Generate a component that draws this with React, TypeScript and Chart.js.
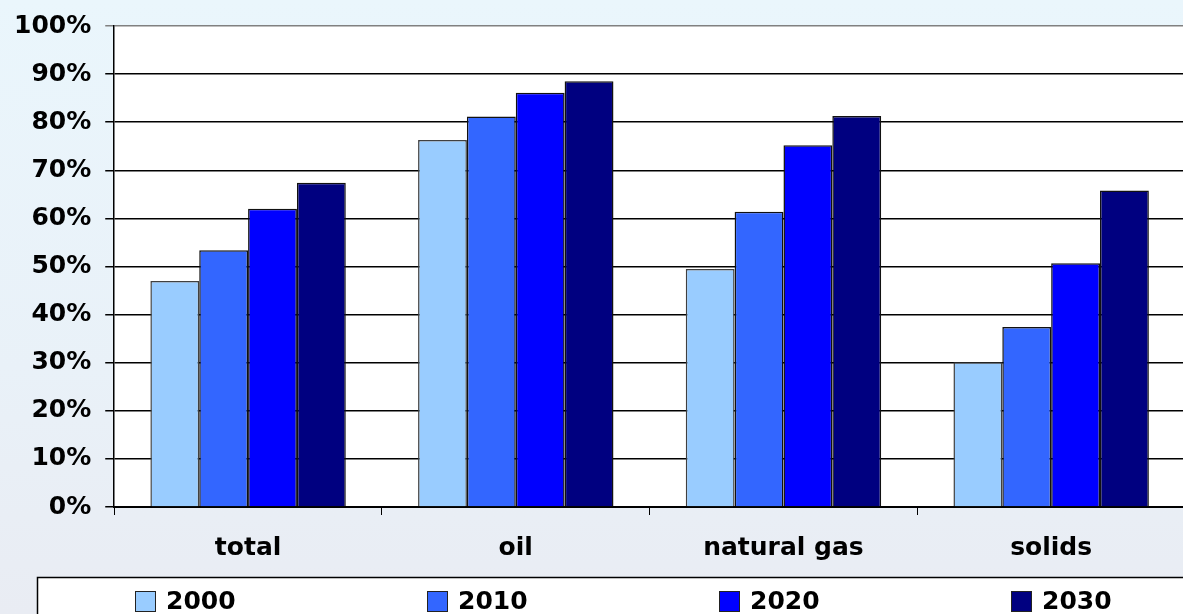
import React, { useEffect, useRef } from "react";
import { Chart, registerables } from "chart.js";

Chart.register(...registerables);

const categories = ["total", "oil", "natural gas", "solids"];
const seriesLabels = ["2000", "2010", "2020", "2030"];
const values2000 = [47.0, 76.3, 49.5, 30.1];
const values2010 = [53.4, 81.2, 61.4, 37.4];
const values2020 = [62.0, 86.1, 75.2, 50.7];
const values2030 = [67.4, 88.5, 81.3, 65.8];
const seriesColors = ["#99CCFF", "#3366FF", "#0000FF", "#000080"];
const seriesBorders = ["#404040", "#111111", "#111111", "#111111"];
const yTicks = [0, 10, 20, 30, 40, 50, 60, 70, 80, 90, 100];

const FONT = "'DejaVu Sans', 'Liberation Sans', Arial, sans-serif";

const plotBg = {
  id: "plotBg",
  beforeDraw(chart: any) {
    const { ctx, chartArea } = chart;
    ctx.save();
    ctx.fillStyle = "#ffffff";
    ctx.fillRect(chartArea.left, chartArea.top, chartArea.right - chartArea.left, chartArea.bottom - chartArea.top);
    ctx.restore();
  },
};

const boxLegend = {
  id: "boxLegend",
  afterDraw(chart: any) {
    const { ctx } = chart;
    ctx.save();
    ctx.fillStyle = "#ffffff";
    ctx.fillRect(37, 577, 1300, 100);
    ctx.strokeStyle = "#000000";
    ctx.lineWidth = 1.5;
    ctx.strokeRect(37.5, 577.5, 1300, 100);
    ctx.font = `bold 25px ${FONT}`;
    ctx.textBaseline = "alphabetic";
    ctx.textAlign = "left";
    chart.data.datasets.forEach((ds: any, i: number) => {
      const x = 135 + i * 292;
      ctx.fillStyle = ds.backgroundColor;
      ctx.fillRect(x, 591, 21, 21);
      ctx.strokeStyle = "#222222";
      ctx.lineWidth = 1;
      ctx.strokeRect(x + 0.5, 591.5, 20, 20);
      ctx.fillStyle = "#000000";
      ctx.fillText(ds.label, x + 31, 609);
    });
    ctx.restore();
  },
};

export default function App() {
  const ref = useRef<HTMLCanvasElement | null>(null);

  useEffect(() => {
    document.body.style.margin = "0";
    document.body.style.overflow = "hidden";
    const allValues = [values2000, values2010, values2020, values2030];
    const chart = new Chart(ref.current as HTMLCanvasElement, {
      type: "bar",
      data: {
        labels: categories,
        datasets: seriesLabels.map((lab, i) => ({
          label: lab,
          data: allValues[i],
          backgroundColor: seriesColors[i],
          borderColor: seriesBorders[i],
          borderWidth: 1.5,
          categoryPercentage: 0.73,
          barPercentage: 1.0,
        })),
      },
      options: {
        animation: false,
        responsive: false,
        maintainAspectRatio: false,
        layout: { padding: { top: 0, left: 0, right: 15, bottom: 33 } },
        plugins: {
          legend: { display: false },
          tooltip: { enabled: false },
        },
        scales: {
          x: {
            grid: {
              offset: true,
              drawOnChartArea: false,
              drawTicks: true,
              tickLength: 8,
              color: "#000000",
              lineWidth: 1,
            },
            border: { display: true, color: "#000000", width: 2 },
            ticks: {
              color: "#000000",
              padding: 18,
              font: { family: FONT, size: 25, weight: "bold" },
            },
          },
          y: {
            min: 0,
            max: 100,
            afterBuildTicks(scale: any) {
              scale.ticks = yTicks.map((v) => ({ value: v }));
            },
            grid: {
              drawTicks: true,
              tickLength: 9,
              color: (c: any) => (c.tick && c.tick.value === 100 ? "#808080" : "#000000"),
              lineWidth: 1.5,
            },
            border: { display: true, color: "#000000", width: 1.5 },
            ticks: {
              color: "#000000",
              padding: 14,
              font: { family: FONT, size: 25, weight: "bold", lineHeight: 0.96 },
              callback: (v: any) => `${v}%`,
            },
          },
        },
      },
      plugins: [plotBg, boxLegend],
    });
    return () => chart.destroy();
  }, []);

  return (
    <div
      style={{
        position: "fixed",
        left: 0,
        top: 0,
        width: 1200,
        height: 614,
        background: "linear-gradient(180deg, #eaf6fc 0%, #e9f1f8 60%, #e9ecf3 100%)",
      }}
    >
      <canvas ref={ref} width={1200} height={614} style={{ display: "block" }} />
    </div>
  );
}
